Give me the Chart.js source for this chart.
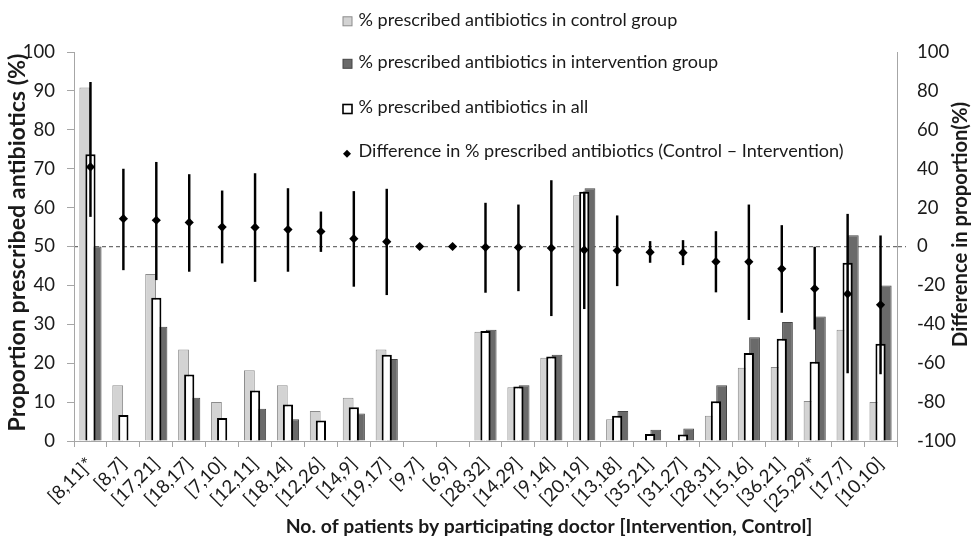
<!DOCTYPE html>
<html><head><meta charset="utf-8">
<script src="https://cdn.jsdelivr.net/npm/chart.js@4.4.1/dist/chart.umd.min.js"></script>
<style>html,body{margin:0;padding:0;background:#fff;} #wrap{width:972px;height:538px;position:relative;} canvas{display:block;}</style>
</head><body><div id="wrap"><canvas id="c" width="972" height="538"></canvas></div>
<script>
const categories = ['[8,11]*','[8,7]','[17,21]','[18,17]','[7,10]','[12,11]','[18,14]','[12,26]','[14,9]','[19,17]','[9,7]','[6,9]','[28,32]','[14,29]','[9,14]','[20,19]','[13,18]','[35,21]','[31,27]','[28,31]','[15,16]','[36,21]','[25,29]*','[17,7]','[10,10]'];
const controlPct = [90.9,14.3,42.9,23.5,10.0,18.2,14.3,7.7,11.1,23.5,0,0,28.1,13.8,21.4,63.2,5.6,0,0,6.5,18.8,19.0,10.3,28.6,10.0];
const interventionPct = [50.0,0,29.4,11.1,0,8.3,5.6,0,7.1,21.1,0,0,28.6,14.3,22.2,65.0,7.7,2.9,3.2,14.3,26.7,30.6,32.0,52.9,40.0];
const allPct = [73.7,6.7,36.8,17.1,5.9,13.0,9.4,5.3,8.7,22.2,0,0,28.3,14.0,21.7,64.1,6.5,1.8,1.7,10.2,22.6,26.3,20.4,45.8,25.0];
const difference = [40.9,14.3,13.5,12.4,10.0,9.8,8.7,7.7,4.0,2.5,0,0,-0.4,-0.5,-0.8,-1.8,-2.1,-2.9,-3.2,-7.8,-7.9,-11.5,-21.7,-24.4,-30.0];
const ciLow = [15.4,-12.0,-17.1,-12.8,-8.5,-18.0,-12.8,-2.6,-20.5,-24.8,null,null,-23.6,-22.8,-35.6,-32.0,-20.2,-8.2,-9.4,-23.4,-37.6,-33.9,-42.5,-65.0,-65.5];
const ciHigh = [84.4,39.8,43.3,37.0,28.6,37.5,29.8,17.8,28.3,29.5,null,null,22.3,21.4,33.9,28.0,15.8,2.6,3.1,7.7,21.4,10.8,-0.3,16.6,5.5];
const leftTicks = {min:0, max:100, step:10};
const rightTicks = {min:-100, max:100, step:20};
const labels = {
  control: '% prescribed antibiotics in control group',
  intervention: '% prescribed antibiotics in intervention group',
  all: '% prescribed antibiotics in all',
  diff: 'Difference in % prescribed antibiotics (Control \u2013 Intervention)',
  xTitle: 'No. of patients by participating doctor [Intervention, Control]',
  yTitle: 'Proportion prescribed antibiotics (%)',
  y2Title: 'Difference in proportion(%)'
};

const FONT = 'Lato, "Open Sans", sans-serif';
const TXT = '#1a1a1a';
const AXIS = '#a6a6a6';
const CTRL_FILL = '#d3d3d3', CTRL_BORDER = '#8c8c8c';
const INT_FILL = '#6a6a6a', INT_BORDER = '#454545';

const mctx = document.createElement('canvas').getContext('2d');
function fitSize(text, weight, target){ mctx.font = weight + ' 100px ' + FONT; return 100 * target / mctx.measureText(text).width; }
const legendSize = fitSize(labels.control, 'normal', 319);
const xTitleSize = fitSize(labels.xTitle, 'bold', 527);
const yTitleSize = fitSize(labels.yTitle, 'bold', 378);
const y2TitleSize = fitSize(labels.y2Title, 'bold', 245);

const overlay = {
  id: 'overlay',
  afterDraw(chart){
    const ctx = chart.ctx;
    ctx.save();
    const items = [
      {label: labels.control, kind:'box', fill:CTRL_FILL, stroke:CTRL_BORDER, lw:1, base:26, my:21.3},
      {label: labels.intervention, kind:'box', fill:INT_FILL, stroke:INT_BORDER, lw:1, base:68.3, my:63.8},
      {label: labels.all, kind:'box', fill:'#fff', stroke:'#000', lw:1.6, base:113.3, my:109},
      {label: labels.diff, kind:'diamond', base:157.3, my:153.7}
    ];
    ctx.font = 'normal ' + legendSize.toFixed(2) + 'px ' + FONT;
    ctx.textBaseline = 'alphabetic';
    ctx.textAlign = 'left';
    items.forEach(it => {
      if (it.kind === 'box') {
        ctx.fillStyle = it.fill; ctx.strokeStyle = it.stroke; ctx.lineWidth = it.lw;
        ctx.fillRect(343, it.my - 4.5, 9, 9);
        ctx.strokeRect(343, it.my - 4.5, 9, 9);
      } else {
        ctx.fillStyle = '#000';
        ctx.beginPath();
        ctx.moveTo(347, it.my - 4); ctx.lineTo(351, it.my); ctx.lineTo(347, it.my + 4); ctx.lineTo(343, it.my);
        ctx.closePath(); ctx.fill();
      }
      ctx.fillStyle = TXT;
      ctx.fillText(it.label, 358.5, it.base);
    });
    // x title
    ctx.font = 'bold ' + xTitleSize.toFixed(2) + 'px ' + FONT;
    ctx.textAlign = 'center';
    ctx.fillText(labels.xTitle, 549, 533);
    // left title
    ctx.save();
    ctx.translate(25, 242.5); ctx.rotate(-Math.PI/2);
    ctx.font = 'bold ' + yTitleSize.toFixed(2) + 'px ' + FONT;
    ctx.fillText(labels.yTitle, 0, 0);
    ctx.restore();
    // right title
    ctx.save();
    ctx.translate(967, 224.5); ctx.rotate(-Math.PI/2);
    ctx.font = 'bold ' + y2TitleSize.toFixed(2) + 'px ' + FONT;
    ctx.fillText(labels.y2Title, 0, 0);
    ctx.restore();
    ctx.restore();
  }
};

const ciData = ciLow.map((lo, i) => (lo === null || ciHigh[i] === null) ? null : [lo, ciHigh[i]]);

new Chart(document.getElementById('c'), {
  type: 'bar',
  data: {
    labels: categories,
    datasets: [
      {label: labels.control, data: controlPct, yAxisID:'y', order:2,
       backgroundColor: CTRL_FILL, borderColor: CTRL_BORDER, borderWidth: 1, borderSkipped: 'bottom',
       categoryPercentage: 0.69, barPercentage: 0.95},
      {label: labels.intervention, data: interventionPct, yAxisID:'y', order:3,
       backgroundColor: INT_FILL, borderColor: INT_BORDER, borderWidth: 1, borderSkipped: 'bottom',
       categoryPercentage: 0.69, barPercentage: 0.95},
      {label: labels.all, data: allPct, yAxisID:'y', order:1, grouped:false,
       backgroundColor: '#ffffff', borderColor: '#000000', borderWidth: 2, borderSkipped: 'bottom',
       categoryPercentage: 0.31, barPercentage: 1},
      {label: 'CI', data: ciData, yAxisID:'y2', order:0, grouped:false,
       backgroundColor: '#000', borderWidth: 0, maxBarThickness: 1.8, categoryPercentage: 1, barPercentage: 1},
      {type:'line', label: labels.diff, data: difference, yAxisID:'y2', order:-1,
       showLine:false, pointStyle:'rectRot', pointRadius:4.6, pointBackgroundColor:'#000', pointBorderColor:'#000', pointBorderWidth:0}
    ]
  },
  options: {
    responsive: false,
    animation: false,
    devicePixelRatio: 1,
    layout: {padding: {top: 52, left: 0, right: 0, bottom: 0}},
    plugins: {legend: {display:false}, tooltip: {enabled:false}},
    scales: {
      x: {
        offset: true,
        grid: {offset: true, drawOnChartArea: false, drawTicks: true, tickLength: 6, color: AXIS},
        border: {color: AXIS},
        ticks: {autoSkip:false, maxRotation:45, minRotation:45, padding: 6, color: TXT, font:{family: FONT, size: 18.5}},
        afterFit(s){ s.height = 97; }
      },
      y: {
        position:'left', min: leftTicks.min, max: leftTicks.max,
        ticks: {stepSize: leftTicks.step, padding: 12, color: TXT, font:{family: FONT, size: 18.5}},
        grid: {drawOnChartArea:false, tickLength: 7, color: AXIS},
        border: {color: AXIS},
        afterFit(s){ s.width = 74; }
      },
      y2: {
        position:'right', min: rightTicks.min, max: rightTicks.max,
        ticks: {stepSize: rightTicks.step, padding: 11, color: TXT, font:{family: FONT, size: 18.5}},
        grid: {drawOnChartArea:true, tickLength: 9,
               color: c => (c.tick && c.tick.value === 0) ? '#6f6f6f' : 'rgba(0,0,0,0)',
               tickBorderDash: [4,3], lineWidth: 1.2},
        border: {color: AXIS, dash: [4,3]},
        afterFit(s){ s.width = 75; }
      }
    }
  },
  plugins: [overlay]
});
</script>
</body></html>
